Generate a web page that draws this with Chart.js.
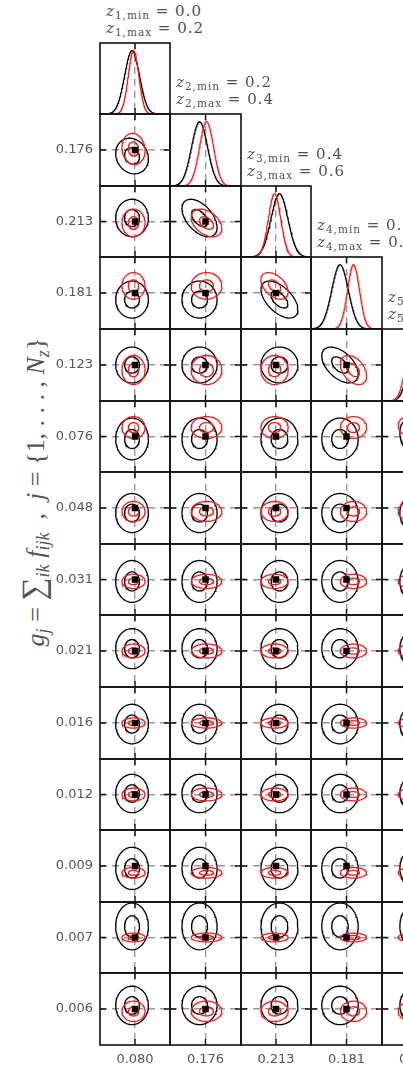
<!DOCTYPE html>
<html>
<head>
<meta charset="utf-8">
<script src="https://cdn.jsdelivr.net/npm/chart.js@4.4.0/dist/chart.umd.min.js"></script>
<style>
  html, body { margin: 0; padding: 0; background: #fff; }
  body { width: 403px; height: 1067px; overflow: hidden; position: relative; }
  canvas.panel { position: absolute; }
  .zlab { position: absolute; font: 15px "DejaVu Serif", serif; color: #505050; line-height: 17px; white-space: nowrap; letter-spacing: 1px; }
  .zlab sub, .ytitle sub { font-size: 0.7em; vertical-align: -0.3em; line-height: 0; }
  .ytitle { position: absolute; left: 33px; top: 492px; transform: translate(-50%, -50%) rotate(-90deg);
            font: 26px "Liberation Serif", serif; color: #555; white-space: nowrap; }
  .ytitle .big { font-size: 1.25em; }
</style>
</head>
<body>
<div class="ytitle"><i>g</i><sub><i>j</i></sub> = <span class="big">∑</span><sub><i>ik</i></sub> <i>f</i><sub><i>ijk</i></sub> &nbsp;, &nbsp;<i>j</i> = {1, . . . , <i>N</i><sub><i>z</i></sub>}</div>
<script>
// true amplitude per redshift bin
const binTruth = [0.080, 0.176, 0.213, 0.181, 0.123, 0.076, 0.048, 0.031, 0.021, 0.016, 0.012, 0.009, 0.007, 0.006];
// half width of each bin's axis around the truth
const binHalfRange = [0.040, 0.060, 0.065, 0.060, 0.050, 0.040, 0.030, 0.022, 0.017, 0.014, 0.011, 0.009, 0.008, 0.007];
const zMin = [0.0, 0.2, 0.4, 0.6, 0.8];
const zMax = [0.2, 0.4, 0.6, 0.8, 1.0];

// posterior summaries, black and red runs
const blackMean  = [0.0766, 0.1659, 0.2194, 0.1700, 0.1230, 0.0732, 0.0438, 0.0298, 0.0221, 0.0156, 0.0123, 0.0084, 0.0095, 0.0067];
const blackSigma = [0.0085, 0.0135, 0.0156, 0.0140, 0.0113, 0.0107, 0.0074, 0.0059, 0.0043, 0.0035, 0.0027, 0.0024, 0.0024, 0.0017];
const redMean    = [0.0783, 0.1777, 0.2103, 0.1928, 0.1160, 0.0861, 0.0451, 0.0298, 0.0210, 0.0160, 0.0120, 0.0073, 0.0070, 0.00555];
const redSigma   = [0.0060, 0.0118, 0.0115, 0.0101, 0.0092, 0.0056, 0.0038, 0.0020, 0.0015, 0.0009, 0.0009, 0.0006, 0.00045, 0.0009];
// correlation between bin b and bin b+1
const blackNeighbourRho = [-0.15, -0.5, -0.55, -0.5, -0.3, 0, 0, 0, 0, 0, 0, 0, 0];
const redNeighbourRho   = [-0.1, -0.4, -0.45, -0.4, -0.2, 0, 0, 0, 0, 0, 0, 0, 0];
const contourLevels = [1.0, 2.2];

const NROWS = binTruth.length;
const NCOLS = 5;
const PAD = 2, LABEL_W = 48, LABEL_H = 24, TICK = 6;
const colEdge = c => Math.round(99.5 + c * 70.6);
const rowEdge = r => Math.round(42.5 + r * 71.6);
const BLACK = '#000000', RED = '#ff1a1a';

// frame round the plot area plus inward ticks at the truth value
const framePlugin = {
  id: 'frame',
  afterDraw(chart, args, opts) {
    const { ctx, chartArea: a, scales } = chart;
    ctx.save();
    ctx.strokeStyle = '#111';
    ctx.lineWidth = 1.4;
    ctx.beginPath();
    const px = scales.x.getPixelForValue(scales.x.ticks[0].value);
    ctx.moveTo(px, a.top); ctx.lineTo(px, a.top + TICK);
    ctx.moveTo(px, a.bottom); ctx.lineTo(px, a.bottom - TICK);
    if (opts.yTicks) {
      const py = scales.y.getPixelForValue(scales.y.ticks[0].value);
      ctx.moveTo(a.left, py); ctx.lineTo(a.left + TICK, py);
      ctx.moveTo(a.right, py); ctx.lineTo(a.right - TICK, py);
    }
    ctx.stroke();
    ctx.lineWidth = 1.6;
    ctx.strokeRect(a.left, a.top, a.right - a.left, a.bottom - a.top);
    ctx.restore();
  }
};

// fixed-size axis: the panel box must not shrink for label overhang
function fixAxis(s, isX, size) {
  if (isX) s.height = size; else s.width = size;
  s.paddingLeft = s.paddingRight = s.paddingTop = s.paddingBottom = 0;
}

function binScale(bin, showLabels, size, isX) {
  return {
    type: 'linear',
    bounds: 'data',
    min: binTruth[bin] - binHalfRange[bin],
    max: binTruth[bin] + binHalfRange[bin],
    afterBuildTicks: s => { s.ticks = [{ value: binTruth[bin] }]; },
    afterFit: s => fixAxis(s, isX, size),
    ticks: { display: showLabels, padding: 7, color: '#555', autoSkip: false, maxRotation: 0,
             font: { family: 'DejaVu Sans', size: 13 }, callback: v => v.toFixed(3) },
    grid: { display: true, drawTicks: false, color: '#999', lineWidth: 1.4 },
    border: { display: false, dash: [7, 5] }
  };
}

function ellipse(mx, my, sx, sy, rho, k) {
  const pts = [];
  const q = Math.sqrt(1 - rho * rho);
  for (let i = 0; i <= 64; i++) {
    const t = (i / 64) * 2 * Math.PI;
    const u = Math.cos(t), v = Math.sin(t);
    pts.push({ x: mx + k * sx * u, y: my + k * sy * (rho * u + q * v) });
  }
  return pts;
}

function curve(bin, mean, sigma) {
  const lo = binTruth[bin] - binHalfRange[bin], hi = binTruth[bin] + binHalfRange[bin];
  const pts = [];
  for (let i = 0; i <= 140; i++) {
    const x = lo + (hi - lo) * i / 140;
    const d = (x - mean) / sigma;
    pts.push({ x, y: Math.exp(-0.5 * d * d) });
  }
  return pts;
}

const line = (data, color) => ({ data, showLine: true, borderColor: color, borderWidth: 1.3, pointRadius: 0, fill: false, tension: 0 });

function makePanel(r, c) {
  const diag = r === c;
  const x0 = colEdge(c), x1 = colEdge(c + 1), y0 = rowEdge(r), y1 = rowEdge(r + 1);
  const leftSpace = c === 0 ? LABEL_W : PAD;
  const bottomSpace = r === NROWS - 1 ? LABEL_H : PAD;
  const cv = document.createElement('canvas');
  cv.className = 'panel';
  cv.width = (x1 - x0) + leftSpace + PAD;
  cv.height = (y1 - y0) + PAD + bottomSpace;
  cv.style.left = (x0 - leftSpace) + 'px';
  cv.style.top = (y0 - PAD) + 'px';
  document.body.appendChild(cv);

  let datasets, yScale;
  if (diag) {
    datasets = [line(curve(c, redMean[c], redSigma[c]), RED), line(curve(c, blackMean[c], blackSigma[c]), BLACK)];
    yScale = { type: 'linear', min: 0, max: 1.12, ticks: { display: false }, grid: { display: false, drawTicks: false },
               border: { display: false }, afterFit: s => fixAxis(s, false, c === 0 ? LABEL_W : 0) };
  } else {
    const bRho = r === c + 1 ? blackNeighbourRho[c] : 0;
    const rRho = r === c + 1 ? redNeighbourRho[c] : 0;
    datasets = [{ data: [{ x: binTruth[c], y: binTruth[r] }], pointStyle: 'rect', pointRadius: 4.6,
                  backgroundColor: '#000', borderColor: '#000', borderWidth: 0 }];
    contourLevels.forEach(k => datasets.push(line(ellipse(redMean[c], redMean[r], redSigma[c], redSigma[r], rRho, k), RED)));
    contourLevels.forEach(k => datasets.push(line(ellipse(blackMean[c], blackMean[r], blackSigma[c], blackSigma[r], bRho, k), BLACK)));
    yScale = binScale(r, c === 0, c === 0 ? LABEL_W : 0, false);
  }

  new Chart(cv, {
    type: 'scatter',
    data: { datasets },
    options: {
      responsive: false,
      animation: false,
      events: [],
      layout: { autoPadding: false, padding: { left: c === 0 ? 0 : PAD, right: PAD, top: PAD, bottom: r === NROWS - 1 ? 0 : PAD } },
      plugins: { legend: { display: false }, tooltip: { enabled: false }, frame: { yTicks: !diag } },
      scales: {
        x: binScale(c, r === NROWS - 1, r === NROWS - 1 ? LABEL_H : 0, true),
        y: yScale
      }
    },
    plugins: [framePlugin]
  });
}

for (let r = 0; r < NROWS; r++) {
  for (let c = 0; c <= Math.min(r, NCOLS - 1); c++) makePanel(r, c);
}

// bin edges written above each diagonal panel
for (let c = 0; c < NCOLS; c++) {
  const d = document.createElement('div');
  d.className = 'zlab';
  d.style.left = (colEdge(c) + 6) + 'px';
  d.style.top = (rowEdge(c) - 40) + 'px';
  const n = c + 1;
  d.innerHTML = `<i>z</i><sub>${n},min</sub> = ${zMin[c].toFixed(1)}<br><i>z</i><sub>${n},max</sub> = ${zMax[c].toFixed(1)}`;
  document.body.appendChild(d);
}
</script>
</body>
</html>
